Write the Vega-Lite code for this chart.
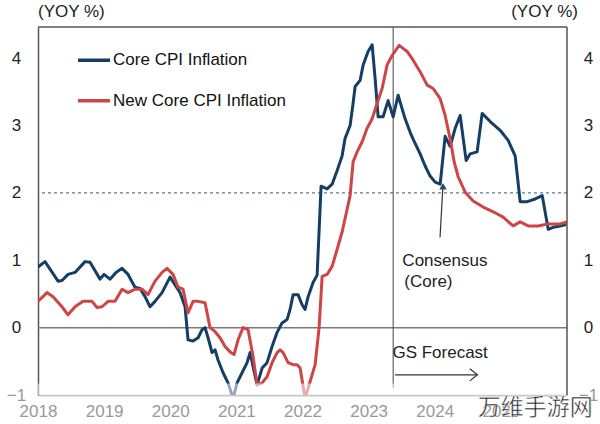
{
  "$schema": "https://vega.github.io/schema/vega-lite/v6.json",
  "width": 529,
  "height": 368,
  "autosize": {"type": "none"},
  "padding": {"left": 38, "top": 27, "right": 33, "bottom": 29},
  "background": "white",
  "config": {"view": {"stroke": null}, "font": "Liberation Sans"},
  "datasets": {
    "cpi": [
      {"s":"Core CPI Inflation","t":2018.000,"v":0.90},{"s":"Core CPI Inflation","t":2018.106,"v":0.98},{"s":"Core CPI Inflation","t":2018.303,"v":0.69},{"s":"Core CPI Inflation","t":2018.363,"v":0.70},{"s":"Core CPI Inflation","t":2018.454,"v":0.79},{"s":"Core CPI Inflation","t":2018.560,"v":0.82},{"s":"Core CPI Inflation","t":2018.711,"v":0.98},{"s":"Core CPI Inflation","t":2018.787,"v":0.97},{"s":"Core CPI Inflation","t":2018.938,"v":0.72},{"s":"Core CPI Inflation","t":2018.998,"v":0.79},{"s":"Core CPI Inflation","t":2019.089,"v":0.72},{"s":"Core CPI Inflation","t":2019.180,"v":0.82},{"s":"Core CPI Inflation","t":2019.271,"v":0.88},{"s":"Core CPI Inflation","t":2019.362,"v":0.79},{"s":"Core CPI Inflation","t":2019.467,"v":0.60},{"s":"Core CPI Inflation","t":2019.543,"v":0.58},{"s":"Core CPI Inflation","t":2019.619,"v":0.46},{"s":"Core CPI Inflation","t":2019.694,"v":0.31},{"s":"Core CPI Inflation","t":2019.770,"v":0.39},{"s":"Core CPI Inflation","t":2019.876,"v":0.52},{"s":"Core CPI Inflation","t":2019.997,"v":0.75},{"s":"Core CPI Inflation","t":2020.148,"v":0.52},{"s":"Core CPI Inflation","t":2020.224,"v":0.31},{"s":"Core CPI Inflation","t":2020.269,"v":-0.18},{"s":"Core CPI Inflation","t":2020.345,"v":-0.20},{"s":"Core CPI Inflation","t":2020.421,"v":-0.15},{"s":"Core CPI Inflation","t":2020.481,"v":-0.03},{"s":"Core CPI Inflation","t":2020.526,"v":0.00},{"s":"Core CPI Inflation","t":2020.572,"v":-0.15},{"s":"Core CPI Inflation","t":2020.632,"v":-0.37},{"s":"Core CPI Inflation","t":2020.678,"v":-0.33},{"s":"Core CPI Inflation","t":2020.723,"v":-0.48},{"s":"Core CPI Inflation","t":2020.799,"v":-0.67},{"s":"Core CPI Inflation","t":2020.874,"v":-0.82},{"s":"Core CPI Inflation","t":2020.950,"v":-1.05},{"s":"Core CPI Inflation","t":2021.011,"v":-0.82},{"s":"Core CPI Inflation","t":2021.086,"v":-0.67},{"s":"Core CPI Inflation","t":2021.162,"v":-0.52},{"s":"Core CPI Inflation","t":2021.207,"v":-0.37},{"s":"Core CPI Inflation","t":2021.313,"v":-0.85},{"s":"Core CPI Inflation","t":2021.389,"v":-0.60},{"s":"Core CPI Inflation","t":2021.464,"v":-0.52},{"s":"Core CPI Inflation","t":2021.540,"v":-0.28},{"s":"Core CPI Inflation","t":2021.616,"v":-0.07},{"s":"Core CPI Inflation","t":2021.691,"v":0.07},{"s":"Core CPI Inflation","t":2021.767,"v":0.12},{"s":"Core CPI Inflation","t":2021.812,"v":0.27},{"s":"Core CPI Inflation","t":2021.858,"v":0.49},{"s":"Core CPI Inflation","t":2021.933,"v":0.49},{"s":"Core CPI Inflation","t":2021.994,"v":0.34},{"s":"Core CPI Inflation","t":2022.039,"v":0.27},{"s":"Core CPI Inflation","t":2022.085,"v":0.46},{"s":"Core CPI Inflation","t":2022.160,"v":0.67},{"s":"Core CPI Inflation","t":2022.221,"v":0.78},{"s":"Core CPI Inflation","t":2022.281,"v":2.10},{"s":"Core CPI Inflation","t":2022.372,"v":2.06},{"s":"Core CPI Inflation","t":2022.448,"v":2.13},{"s":"Core CPI Inflation","t":2022.523,"v":2.33},{"s":"Core CPI Inflation","t":2022.599,"v":2.55},{"s":"Core CPI Inflation","t":2022.644,"v":2.81},{"s":"Core CPI Inflation","t":2022.720,"v":3.00},{"s":"Core CPI Inflation","t":2022.765,"v":3.33},{"s":"Core CPI Inflation","t":2022.796,"v":3.58},{"s":"Core CPI Inflation","t":2022.871,"v":3.67},{"s":"Core CPI Inflation","t":2022.917,"v":3.90},{"s":"Core CPI Inflation","t":2022.992,"v":4.10},{"s":"Core CPI Inflation","t":2023.053,"v":4.20},{"s":"Core CPI Inflation","t":2023.098,"v":3.70},{"s":"Core CPI Inflation","t":2023.144,"v":3.13},{"s":"Core CPI Inflation","t":2023.219,"v":3.13},{"s":"Core CPI Inflation","t":2023.295,"v":3.37},{"s":"Core CPI Inflation","t":2023.371,"v":3.13},{"s":"Core CPI Inflation","t":2023.446,"v":3.45},{"s":"Core CPI Inflation","t":2023.552,"v":3.10},{"s":"Core CPI Inflation","t":2023.628,"v":2.90},{"s":"Core CPI Inflation","t":2023.673,"v":2.80},{"s":"Core CPI Inflation","t":2023.779,"v":2.58},{"s":"Core CPI Inflation","t":2023.855,"v":2.40},{"s":"Core CPI Inflation","t":2023.930,"v":2.25},{"s":"Core CPI Inflation","t":2024.006,"v":2.16},{"s":"Core CPI Inflation","t":2024.082,"v":2.13},{"s":"Core CPI Inflation","t":2024.157,"v":2.84},{"s":"Core CPI Inflation","t":2024.233,"v":2.69},{"s":"Core CPI Inflation","t":2024.309,"v":2.96},{"s":"Core CPI Inflation","t":2024.384,"v":3.15},{"s":"Core CPI Inflation","t":2024.475,"v":2.48},{"s":"Core CPI Inflation","t":2024.536,"v":2.58},{"s":"Core CPI Inflation","t":2024.641,"v":2.61},{"s":"Core CPI Inflation","t":2024.717,"v":3.18},{"s":"Core CPI Inflation","t":2024.838,"v":3.06},{"s":"Core CPI Inflation","t":2024.989,"v":2.93},{"s":"Core CPI Inflation","t":2025.110,"v":2.78},{"s":"Core CPI Inflation","t":2025.216,"v":2.55},{"s":"Core CPI Inflation","t":2025.292,"v":1.87},{"s":"Core CPI Inflation","t":2025.398,"v":1.87},{"s":"Core CPI Inflation","t":2025.519,"v":1.91},{"s":"Core CPI Inflation","t":2025.625,"v":1.96},{"s":"Core CPI Inflation","t":2025.716,"v":1.46},{"s":"Core CPI Inflation","t":2025.791,"v":1.49},{"s":"Core CPI Inflation","t":2025.897,"v":1.51},{"s":"Core CPI Inflation","t":2025.988,"v":1.53},
      {"s":"New Core CPI Inflation","t":2018.000,"v":0.39},{"s":"New Core CPI Inflation","t":2018.136,"v":0.52},{"s":"New Core CPI Inflation","t":2018.227,"v":0.46},{"s":"New Core CPI Inflation","t":2018.363,"v":0.31},{"s":"New Core CPI Inflation","t":2018.454,"v":0.19},{"s":"New Core CPI Inflation","t":2018.560,"v":0.31},{"s":"New Core CPI Inflation","t":2018.681,"v":0.39},{"s":"New Core CPI Inflation","t":2018.817,"v":0.39},{"s":"New Core CPI Inflation","t":2018.893,"v":0.30},{"s":"New Core CPI Inflation","t":2018.968,"v":0.31},{"s":"New Core CPI Inflation","t":2019.059,"v":0.39},{"s":"New Core CPI Inflation","t":2019.165,"v":0.39},{"s":"New Core CPI Inflation","t":2019.271,"v":0.57},{"s":"New Core CPI Inflation","t":2019.362,"v":0.52},{"s":"New Core CPI Inflation","t":2019.467,"v":0.57},{"s":"New Core CPI Inflation","t":2019.573,"v":0.57},{"s":"New Core CPI Inflation","t":2019.664,"v":0.49},{"s":"New Core CPI Inflation","t":2019.770,"v":0.69},{"s":"New Core CPI Inflation","t":2019.876,"v":0.82},{"s":"New Core CPI Inflation","t":2019.952,"v":0.88},{"s":"New Core CPI Inflation","t":2020.042,"v":0.79},{"s":"New Core CPI Inflation","t":2020.118,"v":0.60},{"s":"New Core CPI Inflation","t":2020.194,"v":0.57},{"s":"New Core CPI Inflation","t":2020.269,"v":0.22},{"s":"New Core CPI Inflation","t":2020.345,"v":0.39},{"s":"New Core CPI Inflation","t":2020.421,"v":0.39},{"s":"New Core CPI Inflation","t":2020.526,"v":0.37},{"s":"New Core CPI Inflation","t":2020.602,"v":0.00},{"s":"New Core CPI Inflation","t":2020.678,"v":-0.06},{"s":"New Core CPI Inflation","t":2020.753,"v":-0.15},{"s":"New Core CPI Inflation","t":2020.829,"v":-0.28},{"s":"New Core CPI Inflation","t":2020.905,"v":-0.36},{"s":"New Core CPI Inflation","t":2020.965,"v":-0.40},{"s":"New Core CPI Inflation","t":2021.026,"v":-0.18},{"s":"New Core CPI Inflation","t":2021.101,"v":0.00},{"s":"New Core CPI Inflation","t":2021.177,"v":-0.03},{"s":"New Core CPI Inflation","t":2021.253,"v":-0.43},{"s":"New Core CPI Inflation","t":2021.313,"v":-0.85},{"s":"New Core CPI Inflation","t":2021.389,"v":-0.82},{"s":"New Core CPI Inflation","t":2021.464,"v":-0.73},{"s":"New Core CPI Inflation","t":2021.540,"v":-0.52},{"s":"New Core CPI Inflation","t":2021.616,"v":-0.37},{"s":"New Core CPI Inflation","t":2021.661,"v":-0.33},{"s":"New Core CPI Inflation","t":2021.707,"v":-0.37},{"s":"New Core CPI Inflation","t":2021.782,"v":-0.52},{"s":"New Core CPI Inflation","t":2021.858,"v":-0.55},{"s":"New Core CPI Inflation","t":2021.918,"v":-0.55},{"s":"New Core CPI Inflation","t":2021.964,"v":-0.60},{"s":"New Core CPI Inflation","t":2022.039,"v":-1.05},{"s":"New Core CPI Inflation","t":2022.115,"v":-0.80},{"s":"New Core CPI Inflation","t":2022.191,"v":-0.55},{"s":"New Core CPI Inflation","t":2022.251,"v":0.00},{"s":"New Core CPI Inflation","t":2022.297,"v":0.76},{"s":"New Core CPI Inflation","t":2022.372,"v":0.79},{"s":"New Core CPI Inflation","t":2022.448,"v":0.91},{"s":"New Core CPI Inflation","t":2022.523,"v":1.16},{"s":"New Core CPI Inflation","t":2022.599,"v":1.42},{"s":"New Core CPI Inflation","t":2022.675,"v":1.76},{"s":"New Core CPI Inflation","t":2022.720,"v":1.96},{"s":"New Core CPI Inflation","t":2022.765,"v":2.46},{"s":"New Core CPI Inflation","t":2022.826,"v":2.61},{"s":"New Core CPI Inflation","t":2022.902,"v":2.76},{"s":"New Core CPI Inflation","t":2022.977,"v":2.96},{"s":"New Core CPI Inflation","t":2023.053,"v":3.10},{"s":"New Core CPI Inflation","t":2023.129,"v":3.33},{"s":"New Core CPI Inflation","t":2023.204,"v":3.55},{"s":"New Core CPI Inflation","t":2023.280,"v":3.90},{"s":"New Core CPI Inflation","t":2023.355,"v":4.04},{"s":"New Core CPI Inflation","t":2023.461,"v":4.19},{"s":"New Core CPI Inflation","t":2023.582,"v":4.10},{"s":"New Core CPI Inflation","t":2023.673,"v":3.97},{"s":"New Core CPI Inflation","t":2023.779,"v":3.80},{"s":"New Core CPI Inflation","t":2023.885,"v":3.60},{"s":"New Core CPI Inflation","t":2023.976,"v":3.55},{"s":"New Core CPI Inflation","t":2024.082,"v":3.40},{"s":"New Core CPI Inflation","t":2024.157,"v":3.15},{"s":"New Core CPI Inflation","t":2024.233,"v":2.80},{"s":"New Core CPI Inflation","t":2024.294,"v":2.46},{"s":"New Core CPI Inflation","t":2024.354,"v":2.24},{"s":"New Core CPI Inflation","t":2024.460,"v":2.01},{"s":"New Core CPI Inflation","t":2024.581,"v":1.88},{"s":"New Core CPI Inflation","t":2024.732,"v":1.79},{"s":"New Core CPI Inflation","t":2024.884,"v":1.72},{"s":"New Core CPI Inflation","t":2025.035,"v":1.64},{"s":"New Core CPI Inflation","t":2025.186,"v":1.51},{"s":"New Core CPI Inflation","t":2025.292,"v":1.57},{"s":"New Core CPI Inflation","t":2025.413,"v":1.51},{"s":"New Core CPI Inflation","t":2025.564,"v":1.51},{"s":"New Core CPI Inflation","t":2025.716,"v":1.54},{"s":"New Core CPI Inflation","t":2025.897,"v":1.54},{"s":"New Core CPI Inflation","t":2026.000,"v":1.57}
    ],
    "legend": [
      {"s":"Core CPI Inflation","t":2018.605,"t2":2019.09,"v":3.97},
      {"s":"New Core CPI Inflation","t":2018.605,"t2":2019.09,"v":3.37}
    ]
  },
  "layer": [
    {
      "layer": [
        {
          "data": {"values": [{"y": 0}]},
          "mark": {"type": "rule", "color": "#7a7a7a", "strokeWidth": 1.5},
          "encoding": {
            "y": {"field": "y", "type": "quantitative", "scale": {"domain": [-1, 4.463], "nice": false, "zero": false},
              "axis": {"orient": "left", "values": [-1, 0, 1, 2, 3, 4], "format": "d", "title": null, "ticks": false, "grid": false,
                "domainColor": "#555", "domainWidth": 1.5, "labelFontSize": 17, "labelPadding": 22, "labelAlign": "center", "labelFlush": false,
                "labelColor": {"condition": {"test": "datum.value < 0", "value": "#999"}, "value": "#222"}}}
          }
        },
        {
          "data": {"values": [{"y": 2}]},
          "mark": {"type": "rule", "color": "#2a5a86", "strokeWidth": 1, "strokeDash": [3, 3]},
          "encoding": {"y": {"field": "y", "type": "quantitative"}}
        },
        {
          "data": {"values": [{"t": 2023.371, "y": -0.9, "y2": 4.463}]},
          "mark": {"type": "rule", "color": "#444", "strokeWidth": 1},
          "encoding": {
            "x": {"field": "t", "type": "quantitative"},
            "y": {"field": "y", "type": "quantitative"},
            "y2": {"field": "y2"}
          }
        },
        {
          "data": {"values": [{"y": 4.463}]},
          "mark": {"type": "rule", "color": "#555", "strokeWidth": 1.5},
          "encoding": {"y": {"field": "y", "type": "quantitative"}}
        },
        {
          "data": {"name": "cpi"},
          "mark": {"type": "line", "strokeWidth": 3, "clip": true, "strokeJoin": "round"},
          "encoding": {
            "x": {"field": "t", "type": "quantitative", "scale": {"domain": [2018, 2026], "nice": false, "zero": false},
              "axis": {"values": [2018, 2019, 2020, 2021, 2022, 2023, 2024, 2025], "format": "d", "title": null, "ticks": false, "grid": false,
                "domainColor": "#c8c8c8", "domainWidth": 2, "labelColor": "#999", "labelFontSize": 17, "labelPadding": 8, "labelFlush": false}},
            "y": {"field": "v", "type": "quantitative"},
            "color": {"field": "s", "type": "nominal", "scale": {"domain": ["Core CPI Inflation", "New Core CPI Inflation"], "range": ["#153e66", "#cf4444"]}, "legend": null},
            "order": {"field": "t", "type": "quantitative"}
          }
        },
        {
          "data": {"values": [{"t": 2018, "t2": 2026, "y": -1, "y2": -0.83}]},
          "mark": {"type": "rect", "color": "white", "opacity": 0.55},
          "encoding": {
            "x": {"field": "t", "type": "quantitative"},
            "x2": {"field": "t2"},
            "y": {"field": "y", "type": "quantitative"},
            "y2": {"field": "y2"}
          }
        },
        {
          "data": {"name": "legend"},
          "mark": {"type": "rule", "strokeWidth": 3.5},
          "encoding": {
            "x": {"field": "t", "type": "quantitative"},
            "x2": {"field": "t2"},
            "y": {"field": "v", "type": "quantitative"},
            "color": {"field": "s", "type": "nominal", "legend": null}
          }
        },
        {
          "data": {"name": "legend"},
          "mark": {"type": "text", "align": "left", "baseline": "middle", "fontSize": 17, "color": "#111", "dx": 3},
          "encoding": {
            "x": {"field": "t2", "type": "quantitative"},
            "y": {"field": "v", "type": "quantitative"},
            "text": {"field": "s"}
          }
        },
        {
          "data": {"values": [
            {"t": 2023.51, "v": 0.985, "label": "Consensus"},
            {"t": 2023.54, "v": 0.68, "label": "(Core)"},
            {"t": 2023.36, "v": -0.37, "label": "GS Forecast"}
          ]},
          "mark": {"type": "text", "align": "left", "baseline": "middle", "fontSize": 17, "color": "#222"},
          "encoding": {
            "x": {"field": "t", "type": "quantitative"},
            "y": {"field": "v", "type": "quantitative"},
            "text": {"field": "label"}
          }
        },
        {
          "data": {"values": [
            {"t": 2024.08, "t2": 2024.122, "v": 1.34, "v2": 2.08},
            {"t": 2023.40, "t2": 2024.645, "v": -0.70, "v2": -0.70}
          ]},
          "mark": {"type": "rule", "color": "#333", "strokeWidth": 1.2},
          "encoding": {
            "x": {"field": "t", "type": "quantitative"},
            "x2": {"field": "t2"},
            "y": {"field": "v", "type": "quantitative"},
            "y2": {"field": "v2"}
          }
        },
        {
          "data": {"values": [
            {"t": 2024.53, "v": -0.61, "k": 1},
            {"t": 2024.645, "v": -0.70, "k": 2},
            {"t": 2024.53, "v": -0.79, "k": 3}
          ]},
          "mark": {"type": "line", "color": "#333", "strokeWidth": 1.2},
          "encoding": {
            "x": {"field": "t", "type": "quantitative"},
            "y": {"field": "v", "type": "quantitative"},
            "order": {"field": "k", "type": "quantitative"}
          }
        },
        {
          "data": {"values": [{"t": 2024.125, "v": 2.1}]},
          "mark": {"type": "point", "shape": "triangle-up", "filled": true, "color": "#2c4a6a", "size": 55, "opacity": 1},
          "encoding": {
            "x": {"field": "t", "type": "quantitative"},
            "y": {"field": "v", "type": "quantitative"}
          }
        },
        {
          "data": {"values": [{"t": 2018.0, "v": 4.69, "label": "(YOY %)"}]},
          "mark": {"type": "text", "align": "left", "baseline": "middle", "fontSize": 17, "color": "#222"},
          "encoding": {
            "x": {"field": "t", "type": "quantitative"},
            "y": {"field": "v", "type": "quantitative"},
            "text": {"field": "label"}
          }
        },
        {
          "data": {"values": [{"t": 2026.166, "v": 4.69, "label": "(YOY %)"}]},
          "mark": {"type": "text", "align": "right", "baseline": "middle", "fontSize": 17, "color": "#222"},
          "encoding": {
            "x": {"field": "t", "type": "quantitative"},
            "y": {"field": "v", "type": "quantitative"},
            "text": {"field": "label"}
          }
        }
      ]
    },
    {
      "data": {"values": [{"y": -1, "t": 2026}, {"y": 4.463, "t": 2026}]},
      "mark": {"type": "line", "color": "#555", "strokeWidth": 1.5},
      "encoding": {
        "x": {"field": "t", "type": "quantitative"},
        "y": {"field": "y", "type": "quantitative", "scale": {"domain": [-1, 4.463], "nice": false, "zero": false},
          "axis": {"orient": "right", "values": [-1, 0, 1, 2, 3, 4], "format": "d", "title": null, "ticks": false, "grid": false, "domain": false,
            "labelFontSize": 17, "labelPadding": 21, "labelAlign": "center", "labelFlush": false,
            "labelColor": {"condition": {"test": "datum.value < 0", "value": "#999"}, "value": "#222"}}}
      }
    },
    {
      "data": {"values": [{"t": 2025.52, "v": -1.2, "label": "万维手游网"}]},
      "mark": {"type": "text", "align": "center", "baseline": "middle", "fontSize": 23, "font": "Noto Sans CJK SC", "color": "#222", "stroke": "white", "strokeWidth": 0.5},
      "encoding": {
        "x": {"field": "t", "type": "quantitative"},
        "y": {"field": "v", "type": "quantitative", "scale": {"domain": [-1, 4.463], "nice": false, "zero": false}, "axis": null},
        "text": {"field": "label"}
      }
    }
  ],
  "resolve": {"scale": {"y": "independent"}}
}
